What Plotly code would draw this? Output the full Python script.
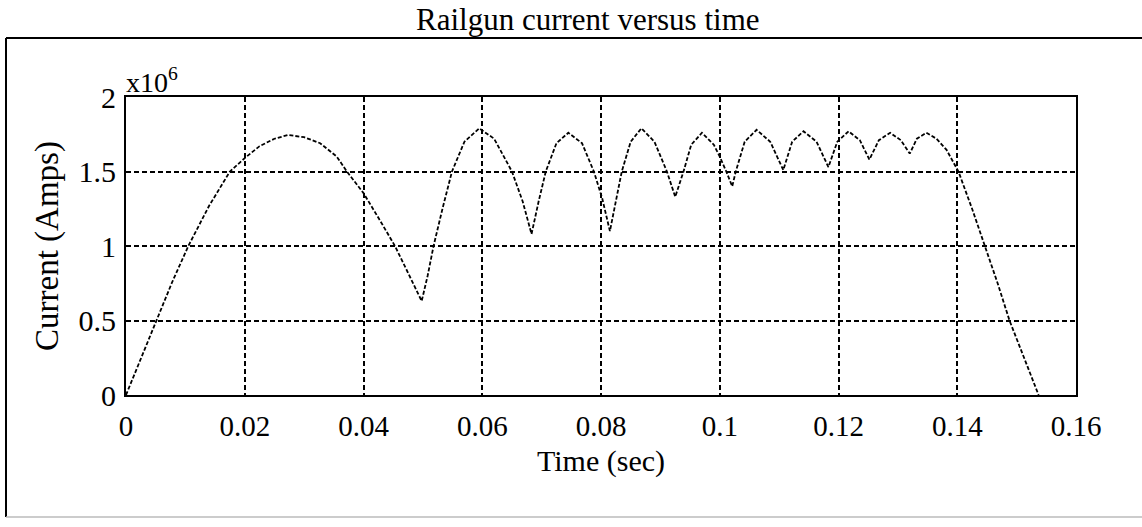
import plotly.graph_objects as go

# Time (sec) and current (x10^6 A)
time_s = [0.0000, 0.0025, 0.00517, 0.0078, 0.0105, 0.0140, 0.0175, 0.0200, 0.0225, 0.0250,
          0.0273, 0.0300, 0.0327, 0.0355, 0.0372, 0.0400, 0.0428, 0.0453, 0.0475, 0.0498,
          0.0508, 0.0518, 0.0533, 0.0549, 0.0570, 0.0595, 0.0620, 0.0650, 0.0668, 0.0683,
          0.0695, 0.0707, 0.0725, 0.0745, 0.0768, 0.0788, 0.0802, 0.0815, 0.0825, 0.0835,
          0.0850, 0.0868, 0.0890, 0.0911, 0.0925, 0.0939, 0.0952, 0.0970, 0.0990, 0.1000,
          0.1011, 0.1021, 0.1027, 0.1042, 0.1062, 0.1085, 0.1107, 0.1122, 0.1141, 0.1163,
          0.1183, 0.1198, 0.1217, 0.1236, 0.1252, 0.1268, 0.1287, 0.1305, 0.1320, 0.1332,
          0.1348, 0.1365, 0.1382, 0.1402, 0.1425, 0.1447, 0.1468, 0.1488, 0.1512, 0.1537]
current_mA = [0.00, 0.24, 0.50, 0.76, 1.00, 1.27, 1.50, 1.59, 1.67, 1.72,
              1.745, 1.73, 1.69, 1.60, 1.50, 1.355, 1.17, 1.00, 0.82, 0.63,
              0.80, 1.00, 1.25, 1.50, 1.70, 1.79, 1.72, 1.50, 1.30, 1.08,
              1.30, 1.50, 1.69, 1.76, 1.69, 1.50, 1.32, 1.10, 1.30, 1.50,
              1.70, 1.79, 1.70, 1.50, 1.33, 1.50, 1.68, 1.76, 1.68, 1.60,
              1.50, 1.40, 1.50, 1.70, 1.78, 1.70, 1.51, 1.70, 1.77, 1.70,
              1.53, 1.70, 1.77, 1.71, 1.58, 1.71, 1.76, 1.71, 1.62, 1.72,
              1.76, 1.72, 1.645, 1.50, 1.25, 1.00, 0.75, 0.50, 0.25, 0.00]

x_ticks = [0, 0.02, 0.04, 0.06, 0.08, 0.1, 0.12, 0.14, 0.16]
x_tick_labels = ["0", "0.02", "0.04", "0.06", "0.08", "0.1", "0.12", "0.14", "0.16"]
y_ticks = [0, 0.5, 1, 1.5, 2]
y_tick_labels = ["0", "0.5", "1", "1.5", "2"]

FONT = "Liberation Serif, Times New Roman, serif"

fig = go.Figure()
fig.add_trace(go.Scatter(
    x=time_s, y=current_mA, mode="lines",
    line=dict(color="black", width=1.8, dash="4px,2px"),
    showlegend=False,
))

W, H = 1142, 527
L, R, T, B = 126, 66, 97, 132
pw, ph = W - L - R, H - T - B

def px_x(p):
    return (p - L) / pw

def px_y(p):
    return (H - B - p) / ph

axis_common = dict(
    showline=True, linecolor="black", linewidth=2, mirror=True,
    showgrid=True, gridcolor="black", gridwidth=1.5, griddash="5px,3px",
    zeroline=False, ticks="",
)

fig.update_xaxes(
    range=[0, 0.16], tickvals=x_ticks, ticktext=x_tick_labels,
    ticklabelstandoff=4,
    tickfont=dict(family=FONT, size=29, color="black"),
    title=dict(text="Time (sec)", font=dict(family=FONT, size=30, color="black"), standoff=9),
    **axis_common,
)
fig.update_yaxes(
    range=[0, 2], tickvals=y_ticks, ticktext=y_tick_labels,
    ticklabelstandoff=2,
    tickfont=dict(family=FONT, size=30, color="black"),
    title=dict(text="Current (Amps)", font=dict(family=FONT, size=33, color="black"), standoff=10),
    **axis_common,
)

fig.update_layout(
    width=W, height=H,
    margin=dict(l=L, r=R, t=T, b=B, autoexpand=False),
    paper_bgcolor="white", plot_bgcolor="white",
    font=dict(family=FONT, color="black"),
    annotations=[
        dict(text="Railgun current versus time", xref="paper", yref="paper",
             x=px_x(588), y=px_y(19), xanchor="center", yanchor="middle",
             showarrow=False, font=dict(family=FONT, size=31, color="black")),
        dict(text="x10<sup>6</sup>", xref="paper", yref="paper",
             x=px_x(124), y=px_y(80), xanchor="left", yanchor="middle",
             showarrow=False, font=dict(family=FONT, size=28, color="black")),
    ],
    shapes=[
        dict(type="line", xref="paper", yref="paper", x0=px_x(6), x1=px_x(1142),
             y0=px_y(38), y1=px_y(38), line=dict(color="black", width=2)),
        dict(type="line", xref="paper", yref="paper", x0=px_x(6), x1=px_x(6),
             y0=px_y(38), y1=px_y(517), line=dict(color="black", width=2)),
        dict(type="line", xref="paper", yref="paper", x0=px_x(6), x1=px_x(1142),
             y0=px_y(517), y1=px_y(517), line=dict(color="#bbbbbb", width=1.5)),
    ],
)

fig.write_html("out.html")
